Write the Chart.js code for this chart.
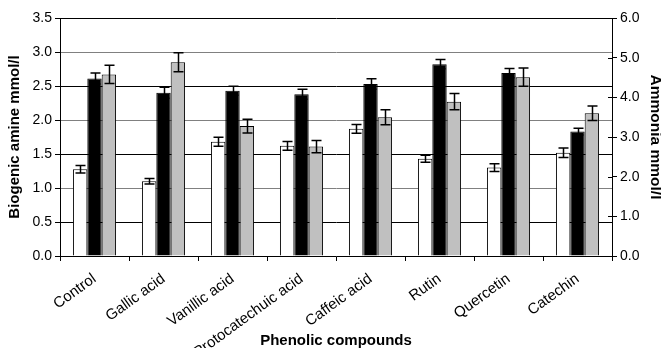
<!DOCTYPE html>
<html>
<head>
<meta charset="utf-8">
<script src="https://cdn.jsdelivr.net/npm/chart.js@4.4.1/dist/chart.umd.min.js"></script>
<style>
html,body{margin:0;padding:0;background:#fff;}
#c{display:block;}
</style>
</head>
<body>
<canvas id="c" width="661" height="348"></canvas>
<script>
const categories = ["Control", "Gallic acid", "Vanillic acid", "Protocatechuic acid", "Caffeic acid", "Rutin", "Quercetin", "Catechin"];
const whiteValues = [1.275, 1.10, 1.68, 1.62, 1.87, 1.43, 1.30, 1.52];
const whiteErrors = [0.055, 0.04, 0.065, 0.064, 0.064, 0.05, 0.056, 0.07];
const blackValues = [2.61, 2.40, 2.43, 2.38, 2.53, 2.82, 2.69, 1.83];
const blackErrors = [0.08, 0.08, 0.065, 0.074, 0.078, 0.068, 0.068, 0.05];
const grayValues = [2.67, 2.85, 1.91, 1.61, 2.04, 2.27, 2.63, 2.10];
const grayErrors = [0.135, 0.14, 0.10, 0.09, 0.11, 0.118, 0.135, 0.107];
const leftTitle = "Biogenic amine mmol/l";
const rightTitle = "Ammonia mmol/l";
const xTitle = "Phenolic compounds";

const FONT = "'Liberation Sans', Arial, sans-serif";

const errorBarPlugin = {
  id: 'errorBars',
  afterDatasetsDraw(chart) {
    const ctx = chart.ctx;
    const ys = chart.scales.y;
    ctx.save();
    ctx.strokeStyle = '#000';
    ctx.lineWidth = 1.5;
    chart.data.datasets.forEach((ds, i) => {
      const meta = chart.getDatasetMeta(i);
      meta.data.forEach((el, j) => {
        const v = ds.data[j], e = ds.errors[j];
        const x = Math.round(el.x) + 0.5;
        const y1 = ys.getPixelForValue(v + e);
        const y2 = ys.getPixelForValue(v - e);
        const cap = 5;
        ctx.beginPath();
        ctx.moveTo(x, y1); ctx.lineTo(x, y2);
        ctx.moveTo(x - cap, y1); ctx.lineTo(x + cap, y1);
        ctx.moveTo(x - cap, y2); ctx.lineTo(x + cap, y2);
        ctx.stroke();
      });
    });
    ctx.restore();
  }
};

const innerTicksPlugin = {
  id: 'innerTicks',
  afterDraw(chart) {
    const ctx = chart.ctx;
    const s = chart.scales.y1;
    ctx.save();
    ctx.strokeStyle = '#000';
    ctx.lineWidth = 1;
    s.ticks.forEach(t => {
      const y = Math.round(s.getPixelForValue(t.value)) + 0.5;
      ctx.beginPath();
      ctx.moveTo(s.left - 4, y); ctx.lineTo(s.left, y);
      ctx.stroke();
    });
    ctx.restore();
  }
};

new Chart(document.getElementById('c'), {
  type: 'bar',
  data: {
    labels: categories,
    datasets: [
      { label: 'Series 1', data: whiteValues, errors: whiteErrors, backgroundColor: '#ffffff', borderColor: '#000000', borderWidth: 1, yAxisID: 'y' },
      { label: 'Series 2', data: blackValues, errors: blackErrors, backgroundColor: '#000000', borderColor: '#000000', borderWidth: 1, yAxisID: 'y' },
      { label: 'Series 3', data: grayValues, errors: grayErrors, backgroundColor: '#c0c0c0', borderColor: '#000000', borderWidth: 1, yAxisID: 'y' }
    ]
  },
  options: {
    responsive: false,
    devicePixelRatio: 1,
    animation: false,
    layout: { padding: { top: 18, left: 0, right: 0, bottom: 0 } },
    plugins: { legend: { display: false }, tooltip: { enabled: false } },
    datasets: { bar: { categoryPercentage: 0.625, barPercentage: 1.0, borderSkipped: 'start' } },
    scales: {
      x: {
        grid: { drawOnChartArea: false, drawTicks: true, tickLength: 5, color: '#000', offset: true },
        border: { display: true, color: '#000', width: 1 },
        ticks: { color: '#000', font: { family: FONT, size: 15 }, minRotation: 36, maxRotation: 36, autoSkip: false, padding: 9 },
        title: { display: true, text: xTitle, color: '#000', font: { family: FONT, size: 15, weight: 'bold', lineHeight: 1 }, padding: { top: 0, bottom: 0 } },
        afterFit(s) { s.height = 92; }
      },
      y: {
        position: 'left',
        min: 0, max: 3.5,
        grid: {
          color: (c) => (c.tick && Math.abs(c.tick.value % 1) < 1e-6) ? '#808080' : '#000000',
          tickColor: '#000', tickLength: 5, lineWidth: 1
        },
        border: { display: true, color: '#000', width: 1 },
        ticks: { stepSize: 0.5, color: '#000', font: { family: FONT, size: 14 }, padding: 3, callback: (v) => Number(v).toFixed(1) },
        title: { display: true, text: leftTitle, color: '#000', font: { family: FONT, size: 15, weight: 'bold', lineHeight: 1 }, padding: { top: 7, bottom: 0 } },
        afterFit(s) { s.width = 60; }
      },
      y1: {
        position: 'right',
        min: 0, max: 6,
        grid: { drawOnChartArea: false, tickColor: '#000', tickLength: 5 },
        border: { display: true, color: '#000', width: 1 },
        ticks: { stepSize: 1, color: '#000', font: { family: FONT, size: 14 }, padding: 3, callback: (v) => Number(v).toFixed(1) },
        title: { display: true, text: rightTitle, color: '#000', font: { family: FONT, size: 15.5, weight: 'bold', lineHeight: 1 }, padding: { top: -2, bottom: 0 } },
        afterFit(s) { s.width = 49; }
      }
    }
  },
  plugins: [errorBarPlugin, innerTicksPlugin]
});
</script>
</body>
</html>
